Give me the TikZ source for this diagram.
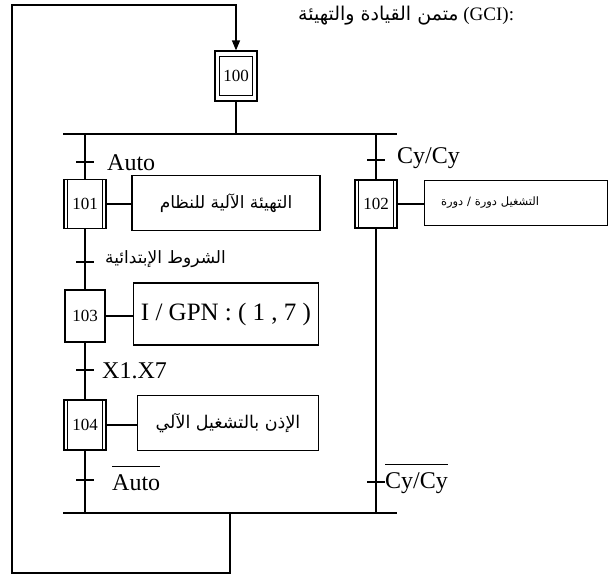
\documentclass[tikz,border=0pt]{standalone}
\usepackage{fontspec}
\setmainfont{Liberation Serif}
\newfontfamily\arabicfont[Script=Arabic]{DejaVu Sans}
\TeXXeTstate=1
\usetikzlibrary{arrows.meta, positioning}

\tikzset{
  grafline/.style={line width=1.2pt},
  stepbox/.style={draw, line width=1.2pt, minimum width=42pt, minimum height=50pt,
                  inner sep=0pt, font=\fontsize{17}{17}\selectfont},
  actbox/.style={draw, line width=1.2pt, inner sep=0pt},
  trlabel/.style={anchor=base west, inner sep=0pt, font=\fontsize{24}{24}\selectfont},
}
\newcommand{\ar}[1]{{\arabicfont\beginR #1\endR}}
\newcommand{\trans}[4]{%
  \coordinate (#1) at (#2);
  \draw[grafline] ([xshift=-9pt]#1) -- ([xshift=9pt]#1);
  \node[trlabel] (#1lab) at ([#3]#1) {#4};}

\begin{document}
\begin{tikzpicture}[x=1pt, y=1pt]
    \useasboundingbox (0,0) rectangle (614,-579);
    % title
    \node[anchor=base west, inner sep=0pt, font=\fontsize{19}{19}\selectfont] (title)
      at (298,-20) {\ar{متمن القيادة والتهيئة} (GCI):};

    % steps
    \node[stepbox] (s100) at (236,-76) {100};
    \draw[grafline] ([shift={(5pt,-6pt)}]s100.north west) rectangle ([shift={(-5pt,6pt)}]s100.south east);
    \node[stepbox, minimum height=49pt] (s101) at (85,-204) {101};
    \node[stepbox, minimum height=48pt] (s102) at (376,-204) {102};
    \node[stepbox, minimum width=40pt, minimum height=52pt] (s103) at (85,-316) {103};
    \node[stepbox] (s104) at (85,-425) {104};
    \foreach \s in {s101,s102,s104}
      \draw[grafline] ([xshift=4pt]\s.north west) -- ([xshift=4pt]\s.south west)
                      ([xshift=-4pt]\s.north east) -- ([xshift=-4pt]\s.south east);

    % actions
    \node[actbox, minimum width=188pt, minimum height=55pt, font=\fontsize{17}{17}\selectfont]
      (a101) at (226,-203) {\ar{التهيئة الآلية للنظام}};
    \node[actbox, minimum width=183pt, minimum height=45pt, text width=150pt, align=left,
          font=\fontsize{11.5}{12}\selectfont]
      (a102) at (516,-203) {\ar{التشغيل دورة / دورة}};
    \node[actbox, minimum width=185pt, minimum height=62pt, font=\fontsize{25}{25}\selectfont]
      (a103) at (226,-314) {I / GPN : ( 1 , 7 )};
    \node[actbox, minimum width=181pt, minimum height=55pt, font=\fontsize{17.5}{18}\selectfont]
      (a104) at (228,-423) {\ar{الإذن بالتشغيل الآلي}};
    \foreach \s/\a in {s101/a101,s102/a102,s103/a103,s104/a104}
      \draw[grafline] (\s.east) -- (\s.east -| \a.west);

    % divergence / convergence
    \coordinate (divL) at (63,-134);
    \coordinate (divR) at (397,-134);
    \coordinate (convL) at (63,-513);
    \coordinate (convR) at (397,-513);
    \draw[grafline] (divL) -- (divR);
    \draw[grafline] (convL) -- (convR);

    % links
    \draw[grafline] (s100.south) -- (s100.south |- divL);
    \draw[grafline] (s101.north |- divL) -- (s101.north);
    \draw[grafline] (s102.north |- divL) -- (s102.north);
    \draw[grafline] (s101.south) -- (s103.north);
    \draw[grafline] (s103.south) -- (s104.north);
    \draw[grafline] (s104.south) -- (s104.south |- convL);
    \draw[grafline] (s102.south) -- (s102.south |- convR);

    % transitions
    \trans{t1}{85,-162}{xshift=22pt, yshift=-8pt}{Auto}
    \trans{t2}{376,-160}{xshift=21pt, yshift=-3pt}{Cy/Cy}
    \trans{t3}{85,-262}{xshift=20pt, yshift=-1pt}{\fontsize{17}{17}\selectfont\ar{الشروط الإبتدائية}}
    \trans{t4}{85,-370}{xshift=17pt, yshift=-8pt}{X1.X7}
    \trans{t5}{85,-480}{xshift=27pt, yshift=-10pt}{$\overline{\mbox{\rule{0pt}{0.95em}Auto}}$}
    \trans{t6}{376,-482}{xshift=9pt, yshift=-6pt}{$\overline{\mbox{\rule{0pt}{0.95em}Cy/Cy}}$}

    % loop back to the initial step
    \coordinate (loopA) at (230,-513);
    \coordinate (loopB) at (12,-573);
    \coordinate (loopC) at (12,-5);
    \draw[grafline, -{Triangle[length=10pt, width=8pt]}]
      (loopA) -- (loopA |- loopB) -- (loopB) -- (loopC) -| (s100.north);
\end{tikzpicture}
\end{document}
